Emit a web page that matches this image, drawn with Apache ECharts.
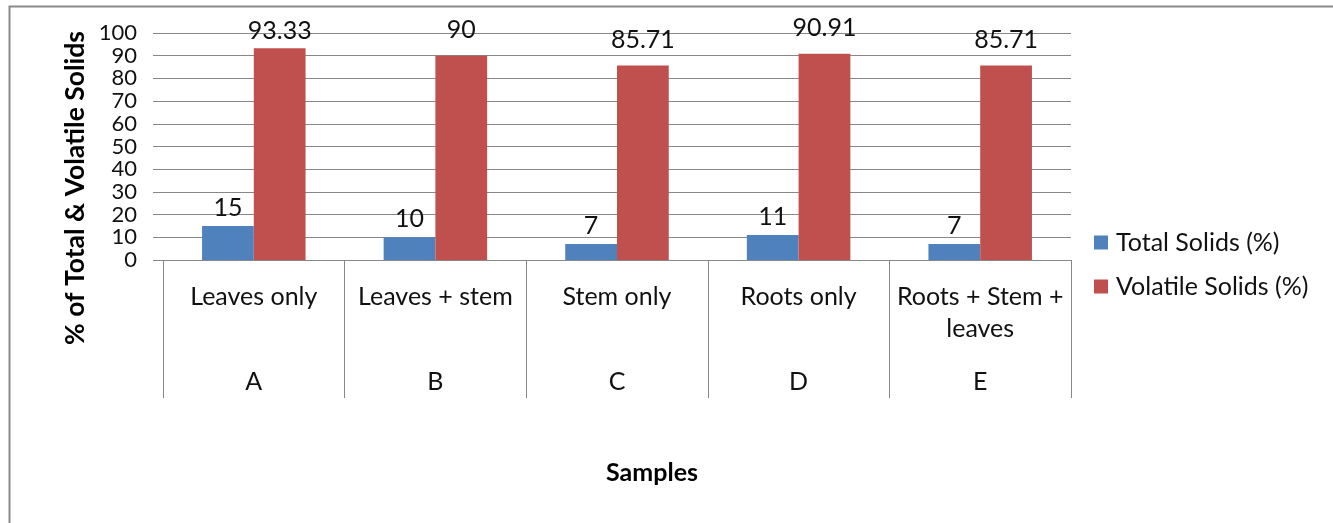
<!DOCTYPE html>
<html><head><meta charset="utf-8">
<script src="https://cdn.jsdelivr.net/npm/echarts@6/dist/echarts.min.js"></script>
<style>html,body{margin:0;padding:0;background:#fff}#c{width:1333px;height:523px}</style>
</head><body><div id="c"></div>
<script>
const categories = ['Leaves only', 'Leaves + stem', 'Stem only', 'Roots only', 'Roots + Stem +\nleaves'];
const codes = ['A', 'B', 'C', 'D', 'E'];
const totalSolids = [15, 10, 7, 11, 7];
const volatileSolids = [93.33, 90, 85.71, 90.91, 85.71];
const yTicks = { min: 0, max: 100, interval: 10 };

const FONT = 'Lato';
const GRID = '#888888';
const chart = echarts.init(document.getElementById('c'), null, { renderer: 'canvas' });
const mkLabel = d => ({ show: true, position: 'top', distance: d, color: '#111', fontFamily: FONT, fontSize: 25,
  formatter: p => String(p.value) });
chart.setOption({
  animation: false,
  textStyle: { fontFamily: FONT },
  grid: { left: 163, top: 33, width: 908, height: 227, containLabel: false },
  legend: {
    orient: 'vertical', left: 1089, top: 225, itemWidth: 14, itemHeight: 14, itemGap: 19,
    icon: 'rect',
    textStyle: { fontFamily: FONT, fontSize: 25, color: '#111', padding: [0, 0, 0, 3] },
    data: ['Total Solids (%)', 'Volatile Solids (%)']
  },
  xAxis: [
    {
      type: 'category', data: categories, position: 'bottom',
      axisLine: { show: true, lineStyle: { color: GRID, width: 1 } },
      axisTick: { show: true, length: 138, interval: 0, lineStyle: { color: GRID, width: 1 } },
      axisLabel: { interval: 0, margin: 21, color: '#111', fontFamily: FONT, fontSize: 25, lineHeight: 32 }
    },
    {
      type: 'category', data: codes, position: 'bottom', gridIndex: 0,
      axisLine: { show: false }, axisTick: { show: false },
      axisLabel: { interval: 0, margin: 106, color: '#111', fontFamily: FONT, fontSize: 25, lineHeight: 32 }
    }
  ],
  yAxis: {
    type: 'value', min: yTicks.min, max: yTicks.max, interval: yTicks.interval,
    axisLine: { show: false },
    axisTick: { show: true, length: 10, lineStyle: { color: GRID, width: 1 } },
    axisLabel: { margin: 26, color: '#111', fontFamily: FONT, fontSize: 22 },
    splitLine: { show: true, lineStyle: { color: GRID, width: 1 } }
  },
  series: [
    { name: 'Total Solids (%)', type: 'bar', data: totalSolids, barGap: '0%', barCategoryGap: '43%',
      itemStyle: { color: '#4F81BD' }, label: mkLabel(6) },
    { name: 'Volatile Solids (%)', type: 'bar',
      data: volatileSolids.map((v, i) => i === 0 ? { value: v, label: { distance: 5 } } : v),
      barGap: '0%', barCategoryGap: '43%',
      itemStyle: { color: '#C0504D' }, label: mkLabel(13) }
  ],
  graphic: [
    { type: 'rect', left: 7, top: 4, shape: { x: 0, y: 0, width: 1340, height: 540 }, silent: true,
      style: { fill: 'none', stroke: '#8a8a8a', lineWidth: 2 } },
    { type: 'text', x: 75, y: 188, rotation: Math.PI / 2, silent: true,
      style: { text: '% of Total & Volatile Solids', fontFamily: FONT, fontSize: 26.5, fontWeight: 'bold', fill: '#000',
        align: 'center', verticalAlign: 'middle' } },
    { type: 'text', x: 652, y: 473, silent: true,
      style: { text: 'Samples', fontFamily: FONT, fontSize: 25, fontWeight: 'bold', fill: '#000',
        align: 'center', verticalAlign: 'middle' } }
  ]
});
</script></body></html>
